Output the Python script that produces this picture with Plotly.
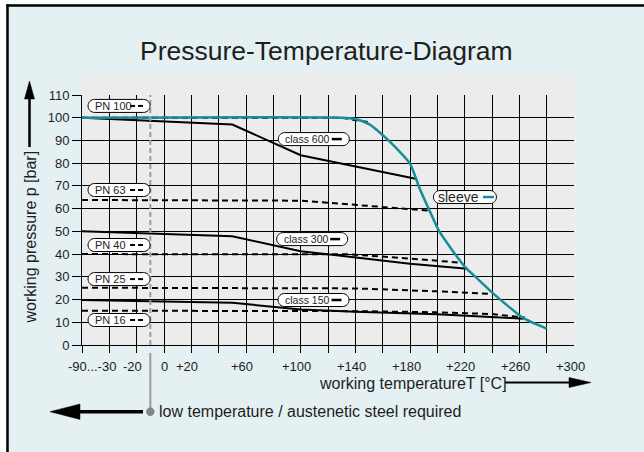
import plotly.graph_objects as go

# ---------------- data ----------------
# temperature positions in °C (left edge -60 stands for the compressed "-90...-30" range)
pn100_T = [-60, 130, 150]
pn100_p = [100, 100, 98]

sleeve_T = [-60, 130, 140, 150, 160, 170, 180, 187, 194, 201, 210, 220, 230, 241, 252, 263, 280]
sleeve_p = [100, 100, 99.4, 97.2, 92.4, 86.6, 79.8, 69, 59.5, 50.4, 42.5, 34.5, 28.8, 22.6, 17.0, 11.8, 7.2]

class600_T = [-60, 50, 100, 185]
class600_p = [100, 97, 83.5, 73]

pn63_T = [-60, 100, 193]
pn63_p = [63.8, 63.5, 59.2]

class300_T = [-60, 50, 100, 180, 222]
class300_p = [50, 47.8, 41.3, 35.8, 33.6]

pn40_T = [-60, 136, 180, 218]
pn40_p = [40, 39.9, 38, 36.2]

pn25_T = [-60, 140, 200, 240]
pn25_p = [25.2, 24.9, 23.6, 22.5]

class150_T = [-60, 50, 100, 140, 200, 263]
class150_p = [19.8, 18.6, 15.6, 14.6, 13.5, 11.6]

pn16_T = [-60, 100, 140, 200, 240, 264]
pn16_p = [15.1, 15.0, 14.9, 14.4, 13.6, 12.1]

x_grid_vals = list(range(-60, 300, 20))
y_tick_vals = list(range(0, 111, 10))
x_tick_vals = [-50, -20, 0, 20, 60, 100, 140, 180, 220, 260, 300]
x_tick_text = ["-90...-30", "-20", "0", "+20", "+60", "+100", "+140", "+180", "+220", "+260", "+300"]
low_temp_limit = -10

title_text = "Pressure-Temperature-Diagram"
x_title = "working temperatureT [°C]"
y_title = "working pressure p [bar]"
note_text = "low temperature / austenetic steel required"

# ---------------- style ----------------
W, H = 644, 452
ML, MR, MT, MB = 82, 70, 95, 107
PW, PH = W - ML - MR, H - MT - MB
FONT = "Liberation Sans, Arial, sans-serif"
TXT = "#1e1e1e"
TEAL = "#178C9E"
BLUE_BG = "#E4F0F2"
GREY_BG = "#EBECEB"


def px2x(px):
    return (px - ML) / PW


def py2y(py):
    return (H - MB - py) / PH


fig = go.Figure()

solid = dict(color="black", width=2)
dashed = dict(color="black", width=2, dash="6px,4px")

for T, p, ln in [
    (pn100_T, pn100_p, dashed),
    (pn63_T, pn63_p, dashed),
    (pn40_T, pn40_p, dashed),
    (pn25_T, pn25_p, dashed),
    (pn16_T, pn16_p, dashed),
    (class600_T, class600_p, solid),
    (class300_T, class300_p, solid),
    (class150_T, class150_p, solid),
]:
    fig.add_trace(go.Scatter(x=T, y=p, mode="lines", line=ln, hoverinfo="skip"))

fig.add_trace(go.Scatter(x=sleeve_T, y=sleeve_p, mode="lines",
                         line=dict(color=TEAL, width=2.5, shape="spline", smoothing=0.6),
                         hoverinfo="skip"))

shapes = []
# white strip outside the frame (top and left)
shapes.append(dict(type="rect", xref="paper", yref="paper", layer="below",
                   x0=px2x(0), x1=px2x(W), y0=py2y(0), y1=py2y(4.3), fillcolor="white", line=dict(width=0)))
shapes.append(dict(type="rect", xref="paper", yref="paper", layer="below",
                   x0=px2x(0), x1=px2x(6.3), y0=py2y(0), y1=py2y(H), fillcolor="white", line=dict(width=0)))
# left/top frame borders
shapes.append(dict(type="line", xref="paper", yref="paper", layer="below",
                   x0=px2x(7.5), x1=px2x(7.5), y0=py2y(4.3), y1=py2y(H),
                   line=dict(color="black", width=2.5)))
shapes.append(dict(type="line", xref="paper", yref="paper", layer="below",
                   x0=px2x(6.3), x1=px2x(W), y0=py2y(5.5), y1=py2y(5.5),
                   line=dict(color="black", width=2.5)))
# grey plot background
shapes.append(dict(type="rect", xref="paper", yref="paper", layer="below",
                   x0=0, x1=1, y0=0, y1=py2y(73), fillcolor=GREY_BG, line=dict(width=0)))

# low-temperature limit line
shapes.append(dict(type="line", xref="x", yref="paper", x0=low_temp_limit, x1=low_temp_limit,
                   y0=0, y1=1, line=dict(color="#9a9a9a", width=2, dash="5px,3px"), layer="above"))
shapes.append(dict(type="line", xref="x", yref="paper", x0=low_temp_limit, x1=low_temp_limit,
                   y0=py2y(353), y1=py2y(411.7), line=dict(color="#9a9a9a", width=2)))
shapes.append(dict(type="circle", xref="x", yref="paper", xsizemode="pixel", ysizemode="pixel",
                   xanchor=low_temp_limit, yanchor=py2y(411.7), x0=-4.2, x1=4.2, y0=-4.2, y1=4.2,
                   fillcolor="#858585", line=dict(width=0)))


def tri(pts):
    s = "M " + " L ".join(f"{px2x(a):.5f},{py2y(b):.5f}" for a, b in pts) + " Z"
    return dict(type="path", xref="paper", yref="paper", path=s, fillcolor="black",
                line=dict(color="black", width=0.5))


# y arrow
shapes.append(dict(type="line", xref="paper", yref="paper", x0=px2x(29.5), x1=px2x(29.5),
                   y0=py2y(147), y1=py2y(96), line=dict(color="black", width=2.5)))
shapes.append(tri([(29.5, 81), (24.5, 99), (34.5, 99)]))
# x arrow
shapes.append(dict(type="line", xref="paper", yref="paper", x0=px2x(505), x1=px2x(572),
                   y0=py2y(382.5), y1=py2y(382.5), line=dict(color="black", width=2)))
shapes.append(tri([(591, 382.5), (569, 377.5), (569, 387.5)]))
# left arrow (low temperature)
shapes.append(dict(type="line", xref="paper", yref="paper", x0=px2x(78), x1=px2x(143),
                   y0=py2y(411.7), y1=py2y(411.7), line=dict(color="black", width=3.5)))
shapes.append(tri([(50, 411.7), (80, 404), (80, 419.4)]))


def pill_path(w, h):
    r = h / 2
    k = 0.5523 * r
    a, b = -w / 2 + r, w / 2 - r
    return (f"M{a},{-r} L{b},{-r} C{b + k},{-r} {b + r},{-k} {b + r},0 "
            f"C{b + r},{k} {b + k},{r} {b},{r} L{a},{r} "
            f"C{a - k},{r} {a - r},{k} {a - r},0 C{a - r},{-k} {a - k},{-r} {a},{-r} Z")


annotations = []

# label boxes: (text, anchorT, anchorP, width, text offset, sample kind, font size)
labels = [
    ("PN 100", -32.9, 105.2, 62, -25, "dash", 11),
    ("PN 63", -32.9, 68.2, 62, -25, "dash", 11),
    ("PN 40", -32.9, 44.0, 62, -25, "dash", 11),
    ("PN 25", -32.9, 29.0, 62, -25, "dash", 11),
    ("PN 16", -32.9, 11.0, 62, -25, "dash", 11),
    ("class 600", 109.6, 90.6, 71, -29.5, "solid", 10.5),
    ("class 300", 108.4, 46.6, 71, -29.5, "solid", 10.5),
    ("class 150", 109.4, 19.8, 71, -29.5, "solid", 10.5),
    ("sleeve", 220.2, 65.1, 63, -27.5, "teal", 14),
]
for text, lx, ly, w, off, kind, fs in labels:
    shapes.append(dict(type="path", xref="x", yref="y", xsizemode="pixel", ysizemode="pixel",
                       xanchor=lx, yanchor=ly, path=pill_path(w, 13), fillcolor="white",
                       line=dict(color="black", width=1), layer="above"))
    if kind == "dash":
        for d0, d1 in [(11, 16), (19, 24)]:
            shapes.append(dict(type="line", xref="x", yref="y", xsizemode="pixel", ysizemode="pixel",
                               xanchor=lx, yanchor=ly, x0=d0, x1=d1, y0=0, y1=0,
                               line=dict(color="black", width=2), layer="above"))
    else:
        col = "black" if kind == "solid" else TEAL
        s0, s1 = (18, 28) if kind == "solid" else (18, 29)
        shapes.append(dict(type="line", xref="x", yref="y", xsizemode="pixel", ysizemode="pixel",
                           xanchor=lx, yanchor=ly, x0=s0, x1=s1, y0=0, y1=0,
                           line=dict(color=col, width=2.5), layer="above"))
    annotations.append(dict(x=lx, y=ly, xref="x", yref="y", text=text, showarrow=False,
                            xanchor="left", yanchor="middle", xshift=off, borderpad=0,
                            font=dict(family=FONT, size=fs, color=TXT)))

# x tick labels
for v, t in zip(x_tick_vals, x_tick_text):
    annotations.append(dict(x=v, y=py2y(366), xref="x", yref="paper", text=t, showarrow=False,
                            xanchor="center", yanchor="middle",
                            xshift=-4 if t[0] in "+-" else 0,
                            font=dict(family=FONT, size=13, color=TXT)))

annotations += [
    dict(x=px2x(326), y=py2y(51), xref="paper", yref="paper", text=title_text, showarrow=False,
         xanchor="center", yanchor="middle", font=dict(family=FONT, size=26.5, color=TXT)),
    dict(x=px2x(29.5), y=py2y(237), xref="paper", yref="paper", text=y_title, showarrow=False,
         textangle=-90, xanchor="center", yanchor="middle", font=dict(family=FONT, size=16, color=TXT)),
    dict(x=px2x(317), y=py2y(383), xref="paper", yref="paper", text=x_title, showarrow=False,
         xanchor="left", yanchor="middle", font=dict(family=FONT, size=16, color=TXT)),
    dict(x=px2x(156.5), y=py2y(411.7), xref="paper", yref="paper", text=note_text, showarrow=False,
         xanchor="left", yanchor="middle", font=dict(family=FONT, size=16, color=TXT)),
]

fig.update_layout(
    width=W, height=H, autosize=False,
    margin=dict(l=ML, r=MR, t=MT, b=MB, pad=0),
    paper_bgcolor=BLUE_BG, plot_bgcolor=GREY_BG,
    showlegend=False, hovermode=False,
    shapes=shapes, annotations=annotations,
    xaxis=dict(range=[-60, 300], tickvals=x_grid_vals, showticklabels=False,
               showgrid=True, gridcolor="black", gridwidth=1,
               ticks="outside", ticklen=7, tickcolor="black", tickwidth=1,
               showline=True, linecolor="black", linewidth=1, zeroline=False, fixedrange=True),
    yaxis=dict(range=[0, 110], tickvals=y_tick_vals, showgrid=True, gridcolor="black", gridwidth=1,
               ticks="outside", ticklen=9, tickcolor="black", tickwidth=1,
               tickfont=dict(family=FONT, size=13, color=TXT),
               showline=True, linecolor="black", linewidth=1, zeroline=False, fixedrange=True),
)

fig.write_html(
    "out.html",
    config={"displayModeBar": False, "staticPlot": True},
    post_script=("document.documentElement.style.overflow='hidden';"
                 "document.body.style.margin='0';document.body.style.overflow='hidden';"
                 "document.documentElement.style.background='" + BLUE_BG + "';"
                 "document.body.style.background='" + BLUE_BG + "';"),
)
